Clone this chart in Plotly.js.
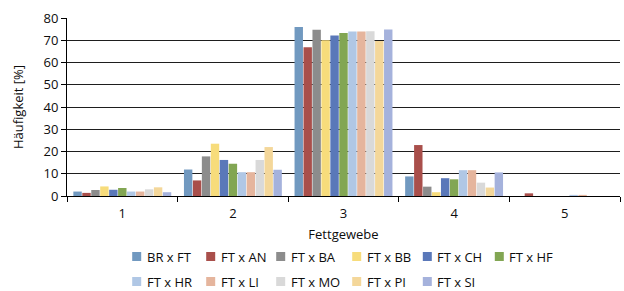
<!DOCTYPE html>
<html>
<head>
<meta charset="utf-8">
<script src="https://cdn.plot.ly/plotly-3.0.1.min.js"></script>
<style>html,body{margin:0;padding:0;background:#fff;}#chart{width:624px;height:291px;}</style>
</head>
<body>
<div id="chart"></div>
<script>
var categories = ['1', '2', '3', '4', '5'];
var seriesNames = ['BR x FT', 'FT x AN', 'FT x BA', 'FT x BB', 'FT x CH', 'FT x HF',
                   'FT x HR', 'FT x LI', 'FT x MO', 'FT x PI', 'FT x SI'];
var brFt = [2.0, 11.9, 75.9, 8.8, 0];
var ftAn = [1.4, 7.0, 66.8, 22.9, 1.2];
var ftBa = [2.7, 17.8, 74.7, 4.2, 0];
var ftBb = [4.3, 23.5, 70.0, 1.7, 0];
var ftCh = [2.8, 16.2, 72.1, 8.0, 0];
var ftHf = [3.6, 14.5, 73.3, 7.5, 0];
var ftHr = [2.0, 10.7, 73.9, 11.6, 0.5];
var ftLi = [2.0, 10.7, 73.9, 11.6, 0.5];
var ftMo = [3.0, 16.2, 74.1, 6.0, 0];
var ftPi = [3.9, 22.0, 69.7, 3.8, 0];
var ftSi = [1.7, 11.8, 74.8, 10.6, 0];
var seriesValues = [brFt, ftAn, ftBa, ftBb, ftCh, ftHf, ftHr, ftLi, ftMo, ftPi, ftSi];
var colors = ['#7199C0', '#A94F4B', '#8C8C8C', '#F7DC7B', '#5A78B9', '#82A653',
              '#B0C7E5', '#E5B59D', '#D9D9D9', '#F4D79A', '#A5B2DC'];

var font = {family: '"Open Sans", "Noto Sans", sans-serif', size: 13, color: '#0d0d0d'};

// plot-area geometry (pixels) used to place the legend keys
var W = 624, H = 291, ML = 67, MR = 4, MT = 18, MB = 95;
var PW = W - ML - MR, PH = H - MT - MB;
function px2x(p) { return (p - ML) / PW; }
function py2y(p) { return (H - MB - p) / PH; }

// legend grid: text start x per column, centre y per row (pixels)
var legendTextX = [146.7, 220.7, 290.7, 366.7, 437.3, 509.3];
var legendRowY = [256.5, 281.5];
var keySize = 9, keyGap = 5.5;

var traces = [];
var shapes = [];
var annotations = [];

for (var i = 0; i < seriesNames.length; i++) {
  traces.push({
    type: 'bar',
    name: seriesNames[i],
    x: categories,
    y: seriesValues[i],
    marker: {color: colors[i], line: {width: 0}},
    hoverinfo: 'name+y'
  });
  var col = i % 6, row = Math.floor(i / 6);
  var tx = legendTextX[col], cy = legendRowY[row];
  shapes.push({
    type: 'rect', xref: 'paper', yref: 'paper',
    x0: px2x(tx - keyGap - keySize), x1: px2x(tx - keyGap),
    y0: py2y(cy + keySize / 2), y1: py2y(cy - keySize / 2),
    fillcolor: colors[i], line: {width: 0}
  });
  annotations.push({
    xref: 'paper', yref: 'paper',
    x: px2x(tx - 1), y: py2y(cy),
    xanchor: 'left', yanchor: 'middle',
    text: seriesNames[i], showarrow: false,
    font: font, borderpad: 0
  });
}

var layout = {
  width: W, height: H,
  margin: {l: ML, r: MR, t: MT, b: MB, autoexpand: false},
  paper_bgcolor: '#ffffff', plot_bgcolor: '#ffffff',
  font: font,
  barmode: 'group',
  bargap: 0.11,
  bargroupgap: 0.06,
  showlegend: false,
  shapes: shapes,
  annotations: annotations,
  xaxis: {
    type: 'category',
    tickson: 'boundaries',
    ticks: 'outside', ticklen: 5, tickcolor: '#000', tickwidth: 1,
    ticklabelstandoff: 5,
    showline: true, linecolor: '#000', linewidth: 1,
    showgrid: false, zeroline: false,
    tickfont: font,
    title: {text: 'Fettgewebe', font: font, standoff: 9}
  },
  yaxis: {
    range: [0, 80], dtick: 10,
    ticks: 'outside', ticklen: 5, tickcolor: '#000', tickwidth: 1,
    showline: true, linecolor: '#000', linewidth: 1,
    showgrid: true, gridcolor: '#1e1e1e', gridwidth: 1,
    zeroline: false,
    tickfont: font,
    title: {text: 'Häufigkeit [%]', font: font, standoff: 16}
  }
};

Plotly.newPlot('chart', traces, layout, {staticPlot: true, displayModeBar: false});
</script>
</body>
</html>
